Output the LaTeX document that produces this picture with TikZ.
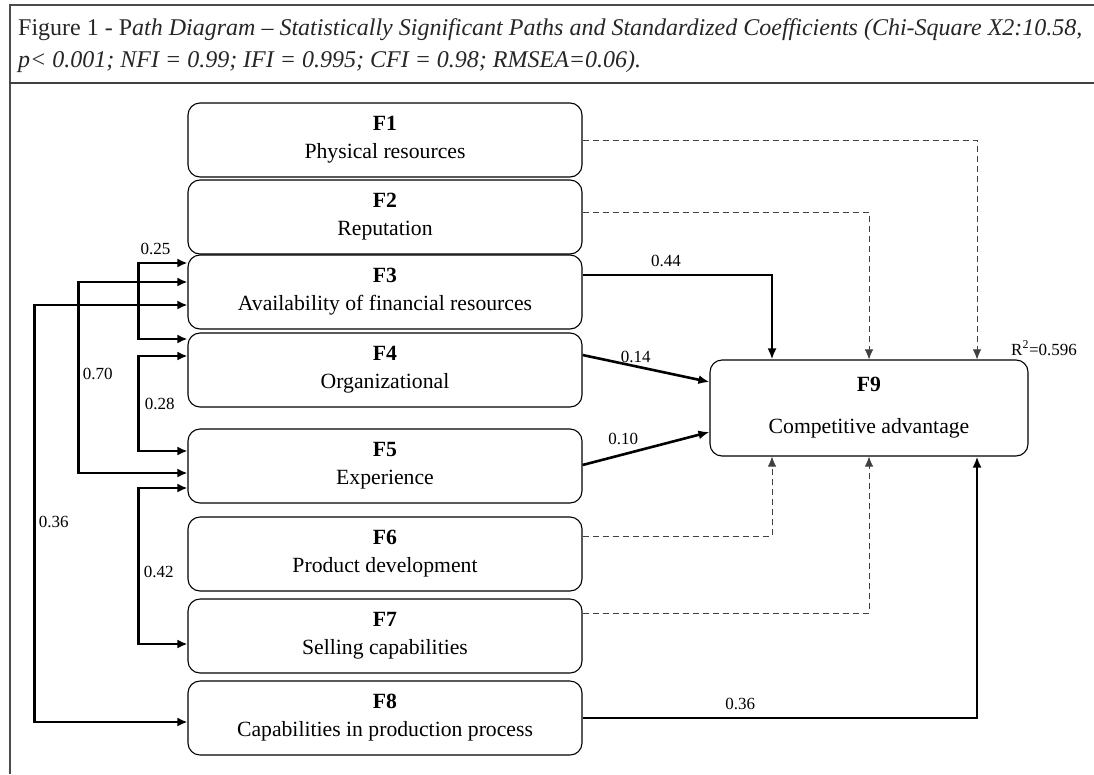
\documentclass[tikz,border=0pt]{standalone}
\usepackage{fontspec}
\setmainfont{Liberation Serif}
\usetikzlibrary{arrows.meta, positioning}

\begin{document}
\begin{tikzpicture}[x=1pt, y=-1pt,
  factor/.style={draw, line width=1.1pt, rounded corners=12pt, minimum width=394pt,
                 minimum height=74pt, align=center, font=\fontsize{21.7}{28}\selectfont},
  sig/.style={-{Latex[length=11pt,width=9pt]}, line width=2.6pt},
  cov/.style={{Latex[length=10pt,width=9pt]}-{Latex[length=10pt,width=9pt]}, line width=2.6pt},
  nonsig/.style={-{Latex[length=10pt,width=8.5pt]}, dash pattern=on 6pt off 4pt,
                 line width=0.8pt, black!75},
  coef/.style={font=\fontsize{17}{17}\selectfont, inner sep=0pt},
  caption/.style={anchor=base west, inner sep=0pt, text=black!85, font=\fontsize{24}{32}\selectfont}]

  \useasboundingbox (0,0) rectangle (1094,774);

  % frame and caption
  \draw[line width=1.2pt, black!70] (1094,5) -- (10,5) -- (10,774);
  \draw[line width=1.5pt, black!75] (10,83) -- (1094,83);
  \node[caption] (cap1) at (18,35) {Figure 1 - P\textit{ath Diagram – Statistically Significant Paths and Standardized Coefficients (Chi-Square X2:10.58,}};
  \node[caption] (cap2) at (18,67) {\textit{p< 0.001; NFI = 0.99; IFI = 0.995; CFI = 0.98; RMSEA=0.06).}};

  % factors
  \node[factor] (f1) at (385,140) {\textbf{F1}\\Physical resources};
  \node[factor] (f2) at (385,217) {\textbf{F2}\\Reputation};
  \node[factor] (f3) at (385,292) {\textbf{F3}\\Availability of financial resources};
  \node[factor] (f4) at (385,370) {\textbf{F4}\\Organizational};
  \node[factor] (f5) at (385,466) {\textbf{F5}\\Experience};
  \node[factor] (f6) at (385,554) {\textbf{F6}\\Product development};
  \node[factor] (f7) at (385,636) {\textbf{F7}\\Selling capabilities};
  \node[factor] (f8) at (385,718) {\textbf{F8}\\Capabilities in production process};
  \node[factor, minimum width=318pt, minimum height=96pt] (f9) at (869,408)
    {\textbf{F9}\\[14pt]Competitive advantage};
  \node[coef, anchor=base west] (rsq) at (1011,355) {R\textsuperscript{2}=0.596};

  % paths to F9
  \draw[nonsig] (f1.east) -| ([xshift=108pt]f9.north);
  \draw[nonsig] ([yshift=5pt]f2.east) -| (f9.north);
  \draw[sig] ([yshift=17pt]f3.east) -| node[coef, pos=0.22, above=7pt] {0.44} ([xshift=-97pt]f9.north);
  \draw[sig] ([yshift=15pt]f4.east) -- node[coef, pos=0.42, above=2pt] {0.14} ([yshift=26pt]f9.west);
  \draw[sig] ([yshift=1pt]f5.east) -- node[coef, pos=0.32, above=8pt] {0.10} ([yshift=-24pt]f9.west);
  \draw[nonsig] ([yshift=18pt]f6.east) -| ([xshift=-97pt]f9.south);
  \draw[nonsig] ([yshift=23pt]f7.east) -| (f9.south);
  \draw[sig] (f8.east) -| node[coef, pos=0.2, above=7pt] {0.36} ([xshift=108pt]f9.south);

  % correlations
  \draw[cov] ([yshift=29pt]f3.west) -- node[coef, pos=0.65, above=7pt] {0.25} ++(-49,0)
    |- ([yshift=31pt]f4.west);
  \draw[cov] ([yshift=10pt]f3.west) -- ++(-109,0)
    |- node[coef, pos=0.24, right=3pt] {0.70} ([yshift=-7pt]f5.west);
  \draw[cov] ([yshift=-13pt]f3.west) -- ++(-153,0)
    |- node[coef, pos=0.26, right=3pt] {0.36} ([yshift=-4pt]f8.west);
  \draw[cov] ([yshift=14pt]f4.west) -- ++(-49,0)
    |- node[coef, pos=0.25, right=5pt] {0.28} ([yshift=15pt]f5.west);
  \draw[cov] ([yshift=-22pt]f5.west) -- ++(-49,0)
    |- node[coef, pos=0.27, right=4pt] {0.42} ([yshift=-8pt]f7.west);
\end{tikzpicture}
\end{document}
